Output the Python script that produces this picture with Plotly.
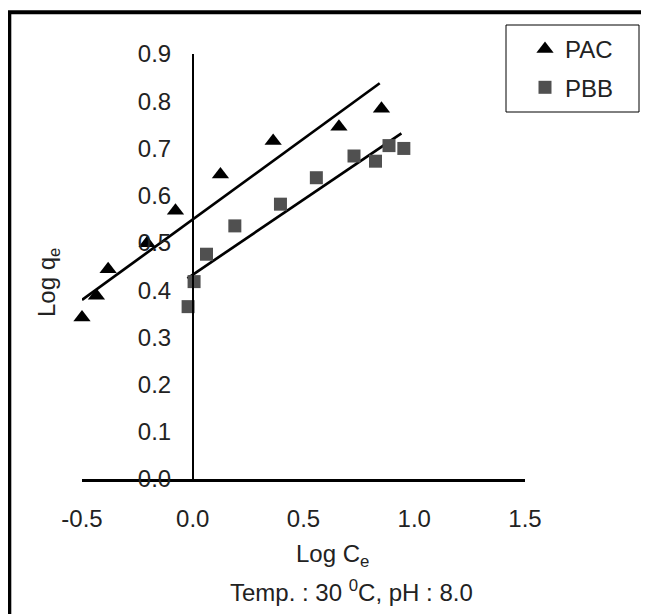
import plotly.graph_objects as go

# ---- data ----
pac_x = [-0.500, -0.435, -0.382, -0.206, -0.078, 0.125, 0.363, 0.660, 0.852]
pac_y = [0.342, 0.388, 0.444, 0.499, 0.568, 0.645, 0.716, 0.746, 0.784]
pbb_x = [-0.021, 0.006, 0.062, 0.190, 0.396, 0.558, 0.728, 0.825, 0.886, 0.953]
pbb_y = [0.365, 0.418, 0.476, 0.536, 0.582, 0.638, 0.684, 0.673, 0.706, 0.700]

pac_fit_x = [-0.500, 0.844]
pac_fit_y = [0.379, 0.838]
pbb_fit_x = [-0.024, 0.942]
pbb_fit_y = [0.425, 0.732]

x_ticks = [-0.5, 0.0, 0.5, 1.0, 1.5]
x_tick_labels = ["-0.5", "0.0", "0.5", "1.0", "1.5"]
y_ticks = [0.0, 0.1, 0.2, 0.3, 0.4, 0.5, 0.6, 0.7, 0.8, 0.9]
y_tick_labels = ["0.0", "0.1", "0.2", "0.3", "0.4", "0.5", "0.6", "0.7", "0.8", "0.9"]

FONT = "Liberation Sans, Arial, sans-serif"
TXT = "#222222"
FS = 24

# page body has an 8px margin; figure is sized so the window shows it fully
W, H = 641, 606
L, T, R, B = 74, 46, 124, 135   # plot area 443 x 425
PW, PH = W - L - R, H - T - B


def px(sx):  # screen x -> paper
    return (sx - 82) / PW


def py(sy):  # screen y -> paper
    return 1 - (sy - 54) / PH


fig = go.Figure()
fig.add_trace(go.Scatter(x=pac_fit_x, y=pac_fit_y, mode="lines", cliponaxis=False,
                         line=dict(color="black", width=2.7), showlegend=False, hoverinfo="skip"))
fig.add_trace(go.Scatter(x=pbb_fit_x, y=pbb_fit_y, mode="lines", cliponaxis=False,
                         line=dict(color="black", width=2.7), showlegend=False, hoverinfo="skip"))
fig.add_trace(go.Scatter(x=pac_x, y=pac_y, mode="markers", name="PAC", legendgroup="a",
                         cliponaxis=False,
                         marker=dict(symbol="triangle-up", size=15, color="black")))
fig.add_trace(go.Scatter(x=pbb_x, y=pbb_y, mode="markers", name="PBB", legendgroup="b",
                         cliponaxis=False,
                         marker=dict(symbol="square", size=13, color="#505050")))

fig.update_layout(
    width=W, height=H,
    margin=dict(l=L, r=R, t=T, b=B),
    paper_bgcolor="white", plot_bgcolor="white",
    font=dict(family=FONT, size=FS, color=TXT),
    xaxis=dict(range=[-0.5, 1.5], domain=[0, 1], anchor="y",
               tickvals=x_ticks, ticktext=x_tick_labels,
               showgrid=False, zeroline=False,
               showline=True, linecolor="black", linewidth=2.5,
               ticks="", ticklabelstandoff=16),
    yaxis=dict(range=[0, 0.9], domain=[0, 1], anchor="free", position=px(193),
               tickvals=y_ticks, ticktext=y_tick_labels,
               showgrid=False, zeroline=False,
               showline=True, linecolor="black", linewidth=2,
               ticks="", ticklabelstandoff=16),
    legend=dict(x=px(525), y=py(27), xanchor="left", yanchor="top",
                bgcolor="rgba(0,0,0,0)", borderwidth=0,
                itemwidth=30, tracegroupgap=4,
                font=dict(family=FONT, size=FS, color=TXT)),
    shapes=[
        dict(type="rect", xref="paper", yref="paper",
             x0=px(9.3), y0=py(640), x1=px(680), y1=py(12.3),
             line=dict(color="black", width=4), fillcolor="rgba(0,0,0,0)"),
        dict(type="rect", xref="paper", yref="paper",
             x0=px(506), y0=py(112), x1=px(639), y1=py(25),
             line=dict(color="black", width=1), fillcolor="rgba(0,0,0,0)"),
    ],
    annotations=[
        dict(text="Log q<sub>e</sub>", xref="paper", yref="paper",
             x=px(48), y=py(283), textangle=-90,
             showarrow=False, xanchor="center", yanchor="middle",
             font=dict(family=FONT, size=FS, color=TXT)),
        dict(text="Log C<sub>e</sub>", xref="paper", yref="paper",
             x=px(332), y=py(555),
             showarrow=False, xanchor="center", yanchor="middle",
             font=dict(family=FONT, size=FS, color=TXT)),
        dict(text="Temp. : 30 <sup>0</sup>C, pH : 8.0", xref="paper", yref="paper",
             x=px(351), y=py(591),
             showarrow=False, xanchor="center", yanchor="middle",
             font=dict(family=FONT, size=FS, color=TXT)),
    ],
)

fig.write_html("out.html")
